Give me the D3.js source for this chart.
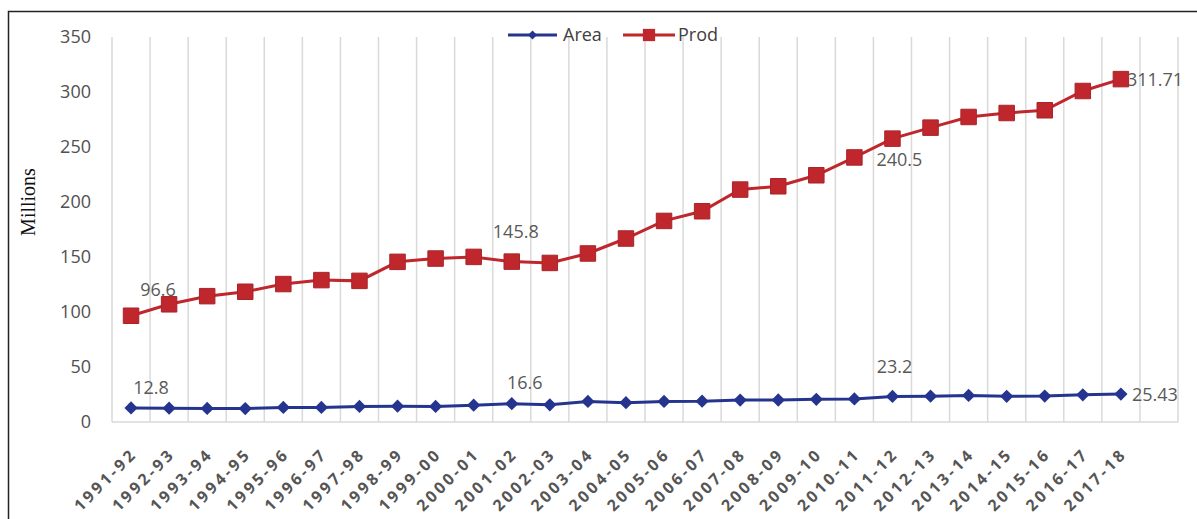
<!DOCTYPE html>
<html>
<head>
<meta charset="utf-8">
<script src="https://cdn.jsdelivr.net/npm/d3@7"></script>
<style>
  html, body { margin: 0; padding: 0; background: #fff; }
  svg { display: block; }
</style>
</head>
<body>
<svg id="chart" width="1197" height="519"></svg>
<script>
// Harvest years shown on the category axis
const years = [
  "1991-92", "1992-93", "1993-94", "1994-95", "1995-96", "1996-97", "1997-98",
  "1998-99", "1999-00", "2000-01", "2001-02", "2002-03", "2003-04", "2004-05",
  "2005-06", "2006-07", "2007-08", "2008-09", "2009-10", "2010-11", "2011-12",
  "2012-13", "2013-14", "2014-15", "2015-16", "2016-17", "2017-18"
];
// The axis keeps one empty slot after the last year
const emptySlots = [" "];

// Area (million ha) and production (million tonnes)
const areaValues = [
  12.8, 12.6, 12.3, 12.2, 13.2, 13.2, 14.1, 14.4, 14.2, 15.3, 16.6, 15.6, 18.7, 17.6,
  18.7, 18.9, 19.9, 20.0, 20.6, 21.0, 23.2, 23.5, 24.2, 23.4, 23.6, 24.7, 25.43
];
const prodValues = [
  96.6, 107.0, 114.4, 118.4, 125.4, 129.0, 128.3, 145.6, 148.6, 150.1, 145.8, 144.6, 153.2, 166.8,
  182.8, 191.6, 211.3, 214.3, 224.3, 240.5, 257.6, 267.6, 277.3, 280.9, 283.4, 300.9, 311.71
];

const yTicks = [0, 50, 100, 150, 200, 250, 300, 350];
const seriesNames = ["Area", "Prod"];

// Which points carry a printed value
const areaLabelled = [0, 10, 20, 26];
const prodLabelled = [0, 10, 19, 26];

const svg = d3.select("#chart");
const plot = { left: 112, right: 1178, top: 37, bottom: 422 };

// Placement of each printed value relative to its point: [dx, dy, anchor]
const areaLabelPlace = [[20, -20, "middle"], [13, -21, "middle"], [2, -30, "middle"], [11, 1, "start"]];
const prodLabelPlace = [[27, -26, "middle"], [4, -30, "middle"], [22, 2, "start"], [6, 1, "start"]];

const slots = years.concat(emptySlots);
const x = d3.scaleBand().domain(slots).range([plot.left, plot.right]).padding(0);
const cx = d => x(d) + x.bandwidth() / 2;
const y = d3.scaleLinear().domain([0, 350]).range([plot.bottom, plot.top]);

const blue = "#25358f";
const red = "#c0272d";
const textGrey = "#595959";
const font = "'Open Sans', sans-serif";

// Frame
svg.append("path")
  .attr("d", `M8.5,519 V11.5 H1197`)
  .attr("fill", "none").attr("stroke", "#222").attr("stroke-width", 1.5);

// Vertical gridlines on category boundaries
const bounds = slots.map(d => x(d)).concat([plot.right]);
svg.append("g").selectAll("line").data(bounds).join("line")
  .attr("x1", d => d).attr("x2", d => d)
  .attr("y1", plot.top).attr("y2", plot.bottom)
  .attr("stroke", "#d9d9d9").attr("stroke-width", 1.5);

// Base line
svg.append("line")
  .attr("x1", plot.left).attr("x2", plot.right)
  .attr("y1", plot.bottom).attr("y2", plot.bottom)
  .attr("stroke", "#d9d9d9").attr("stroke-width", 1.5);

// Value axis
const yAxis = svg.append("g")
  .attr("transform", `translate(${plot.left},0)`)
  .call(d3.axisLeft(y).tickValues(yTicks).tickSize(0).tickPadding(21));
yAxis.select(".domain").remove();
yAxis.selectAll("text")
  .attr("font-family", font).attr("font-size", 18).attr("fill", "#505050");

// Category axis with slanted labels
const xAxis = svg.append("g")
  .attr("transform", `translate(0,${plot.bottom})`)
  .call(d3.axisBottom(x).tickValues(years).tickSize(0));
xAxis.select(".domain").remove();
xAxis.selectAll("text")
  .attr("font-family", font).attr("font-size", 16).attr("font-weight", 700)
  .attr("letter-spacing", 3).attr("fill", "#555")
  .attr("text-anchor", "end")
  .attr("x", 0).attr("y", 0).attr("dy", "0.35em")
  .attr("transform", "translate(3,29) rotate(-45)");

// Axis title
svg.append("text")
  .attr("transform", "translate(35,202) rotate(-90)")
  .attr("text-anchor", "middle")
  .attr("font-family", "'Liberation Serif', 'Times New Roman', serif")
  .attr("font-size", 20).attr("fill", "#111")
  .text("Millions");

const line = d3.line().x((d, i) => cx(years[i])).y(d => y(d));

// Lines
svg.append("path").datum(prodValues).attr("d", line)
  .attr("fill", "none").attr("stroke", red).attr("stroke-width", 3);
svg.append("path").datum(areaValues).attr("d", line)
  .attr("fill", "none").attr("stroke", blue).attr("stroke-width", 3);

// Data labels
function drawLabels(values, which, place) {
  which.forEach((i, k) => {
    const [dx, dy, anchor] = place[k];
    svg.append("text")
      .attr("x", cx(years[i]) + dx).attr("y", y(values[i]) + dy)
      .attr("text-anchor", anchor).attr("dy", "0.35em")
      .attr("font-family", font).attr("font-size", 18).attr("fill", textGrey)
      .text(values[i]);
  });
}
drawLabels(areaValues, areaLabelled, areaLabelPlace);
drawLabels(prodValues, prodLabelled, prodLabelPlace);

// Markers
const square = d3.symbol().type(d3.symbolSquare).size(240);
const diamond = d3.symbol().type(d3.symbolSquare).size(88);
svg.append("g").selectAll("path").data(prodValues).join("path")
  .attr("d", square)
  .attr("transform", (d, i) => `translate(${cx(years[i])},${y(d)})`)
  .attr("fill", red).attr("stroke", "#a8242a").attr("stroke-width", 1);
svg.append("g").selectAll("path").data(areaValues).join("path")
  .attr("d", diamond)
  .attr("transform", (d, i) => `translate(${cx(years[i])},${y(d)}) rotate(45)`)
  .attr("fill", blue);

// Legend
const legend = svg.append("g");
const legendItems = [
  { name: seriesNames[0], x0: 508, x1: 557, color: blue, size: 40, rot: 45, tx: 563 },
  { name: seriesNames[1], x0: 623, x1: 675, color: red, size: 150, rot: 0, tx: 678 }
];
legendItems.forEach(it => {
  legend.append("line").attr("x1", it.x0).attr("x2", it.x1).attr("y1", 35).attr("y2", 35)
    .attr("stroke", it.color).attr("stroke-width", 3);
  legend.append("path").attr("d", d3.symbol().type(d3.symbolSquare).size(it.size)())
    .attr("transform", `translate(${(it.x0 + it.x1) / 2},35) rotate(${it.rot})`)
    .attr("fill", it.color);
  legend.append("text").attr("x", it.tx).attr("y", 35).attr("dy", "0.35em")
    .attr("font-family", font).attr("font-size", 18).attr("fill", "#404040")
    .text(it.name);
});
</script>
</body>
</html>
